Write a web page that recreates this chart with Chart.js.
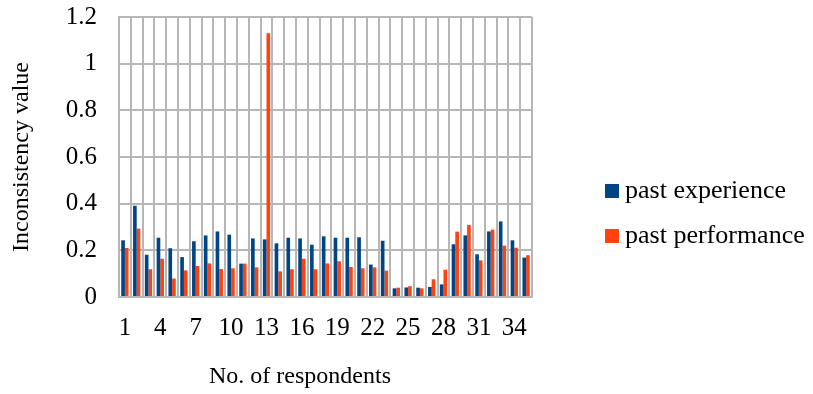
<!DOCTYPE html>
<html>
<head>
<meta charset="utf-8">
<script src="https://cdn.jsdelivr.net/npm/chart.js@4/dist/chart.umd.min.js"></script>
<style>
  html, body { margin: 0; padding: 0; background: #fff; }
  #wrap { width: 813px; height: 394px; }
</style>
</head>
<body>
<div id="wrap"><canvas id="chartCanvas" width="813" height="394"></canvas></div>
<script>
// respondents 1..35
var respondents = [];
for (var i = 1; i <= 35; i++) respondents.push(String(i));

var pastExperience = [0.243, 0.391, 0.181, 0.254, 0.209, 0.171, 0.239, 0.264, 0.281, 0.267,
                      0.143, 0.251, 0.247, 0.230, 0.254, 0.251, 0.224, 0.260, 0.254, 0.254,
                      0.256, 0.139, 0.241, 0.037, 0.041, 0.040, 0.043, 0.054, 0.226, 0.264,
                      0.183, 0.281, 0.324, 0.243, 0.169];
var pastPerformance = [0.210, 0.293, 0.119, 0.164, 0.079, 0.114, 0.133, 0.144, 0.120, 0.123,
                       0.143, 0.127, 1.130, 0.110, 0.119, 0.164, 0.119, 0.144, 0.153, 0.129,
                       0.123, 0.127, 0.113, 0.040, 0.046, 0.037, 0.076, 0.117, 0.280, 0.309,
                       0.157, 0.289, 0.220, 0.211, 0.179];
var yTicks = [0, 0.2, 0.4, 0.6, 0.8, 1, 1.2];
var xTitle = 'No. of respondents';

var serif = "'Liberation Serif', 'Times New Roman', serif";
var gridColor = '#b6b6b6';

// legend + x title drawn by hand so they sit where the original ones are
var sideLegend = {
  id: 'sideLegend',
  afterDraw: function(chart) {
    var ctx = chart.ctx;
    ctx.save();
    ctx.font = '26px ' + serif;
    ctx.textBaseline = 'middle';
    chart.data.datasets.forEach(function(ds, idx) {
      var y = 184 + idx * 45;
      ctx.fillStyle = ds.backgroundColor;
      ctx.fillRect(605, y, 14, 14);
      ctx.fillStyle = '#000';
      ctx.fillText(ds.label, 625, y + 7);
    });
    ctx.font = '24px ' + serif;
    ctx.textAlign = 'center';
    ctx.fillText(xTitle, 300, 377);
    ctx.restore();
  }
};

var ctx = document.getElementById('chartCanvas').getContext('2d');
var currentChart = new Chart(ctx, {
  type: 'bar',
  data: {
    labels: respondents,
    datasets: [{
      label: 'past experience',
      data: pastExperience,
      backgroundColor: '#004586',
      barPercentage: 1.0,
      categoryPercentage: 0.62
    }, {
      label: 'past performance',
      data: pastPerformance,
      backgroundColor: '#ff420e',
      barPercentage: 1.0,
      categoryPercentage: 0.62
    }]
  },
  options: {
    responsive: false,
    animation: false,
    layout: { padding: { left: 0, top: 17, right: 281, bottom: 0 } },
    plugins: {
      legend: { display: false },
      tooltip: { enabled: false }
    },
    scales: {
      x: {
        grid: { color: gridColor, lineWidth: 2, drawTicks: false, offset: true },
        border: { color: gridColor, width: 2 },
        ticks: {
          autoSkip: false,
          maxRotation: 0,
          padding: 16,
          color: '#000',
          font: { family: serif, size: 25 },
          callback: function(value, index) {
            return index % 3 === 0 ? respondents[index] : '';
          }
        },
        afterFit: function(scale) {
          scale.height = 97;
          scale.paddingLeft = 0;
          scale.paddingRight = 0;
        }
      },
      y: {
        min: 0,
        max: 1.2,
        afterBuildTicks: function(scale) {
          scale.ticks = yTicks.map(function(v) { return { value: v }; });
        },
        grid: { color: gridColor, lineWidth: 2, drawTicks: false },
        border: { color: gridColor, width: 2 },
        ticks: {
          padding: 22,
          color: '#000',
          font: { family: serif, size: 25 },
          callback: function(value) { return String(+value.toFixed(1)); }
        },
        title: {
          display: true,
          text: 'Inconsistency value',
          color: '#000',
          font: { family: serif, size: 24 },
          padding: { top: 7, bottom: 0 }
        },
        afterFit: function(scale) {
          scale.width = 119;
          scale.paddingTop = 0;
          scale.paddingBottom = 0;
        }
      }
    }
  },
  plugins: [sideLegend]
});
</script>
</body>
</html>
